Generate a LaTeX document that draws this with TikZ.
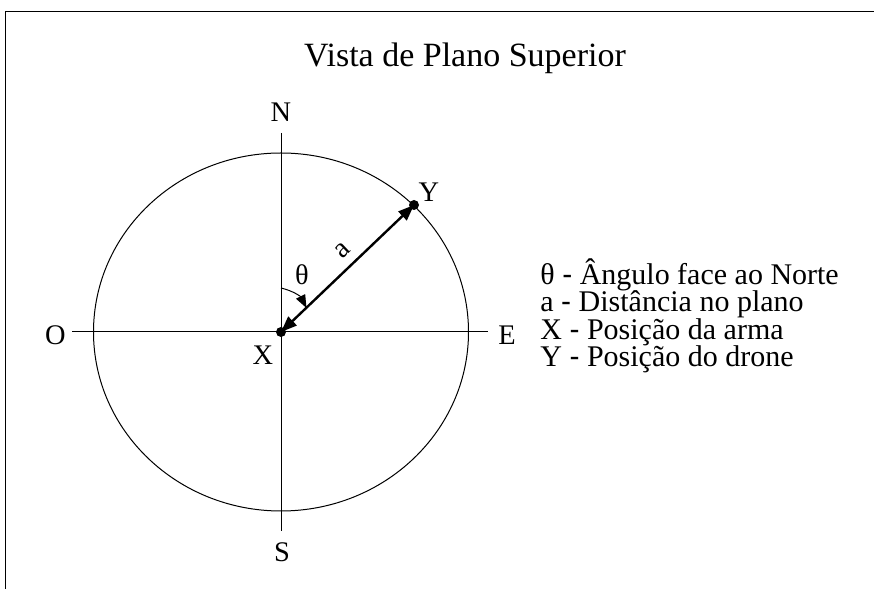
\documentclass[tikz,border=0pt]{standalone}
\usepackage{fontspec}
\setmainfont{Liberation Serif}
\setsansfont{Liberation Sans}
\usepackage{tikz}
\usetikzlibrary{arrows.meta, positioning, calc}
\newcommand{\legdash}{{\sffamily -}}
\tikzset{
  x=0.5pt, y=0.5pt,
  font=\fontsize{14.2}{17}\selectfont,
  thinline/.style={draw=black, line width=0.5pt},
  dotnode/.style={circle, fill=black, inner sep=0pt, minimum size=5pt},
  distline/.style={
    draw=black, line width=1.2pt,
    {Triangle[length=8pt, width=6pt]}-{Triangle[length=8pt, width=6pt]}
  },
  anglearrow/.style={
    draw=black, line width=0.5pt, -{Triangle[length=6.5pt, width=5pt]}
  },
  pointlabel/.style={inner sep=0pt, anchor=base},
  legendtext/.style={inner sep=0pt, anchor=base west, font=\fontsize{15}{18}\selectfont}
}

\begin{document}
\begin{tikzpicture}

  \useasboundingbox (0,0) rectangle (874,589);

  % frame (top and left edges only)
  \draw[thinline] (5,0) -- (5,577) -- (874,577);

  % title
  \node[pointlabel, font=\fontsize{17}{20}\selectfont] (title) at (465,522) {Vista de Plano Superior};

  % positions
  \node[dotnode] (X) at (281,257) {};
  \node[dotnode] (Y) at (414,384) {};

  % compass axes
  \coordinate (wend) at (72,257);
  \coordinate (eend) at (488,257);
  \coordinate (nend) at (281,456);
  \coordinate (send) at (281,58);
  \draw[thinline] (wend) -- (eend);
  \draw[thinline] (nend) -- (send);

  % plane circle
  \draw[thinline] (X.center) ellipse [x radius=187.5, y radius=179];

  % cardinal points
  \node[pointlabel] (north) at (281,467) {N};
  \node[pointlabel] (south) at (282,27) {S};
  \node[pointlabel] (west) at (55.5,244) {O};
  \node[pointlabel] (east) at (507,244) {E};

  % distance and angle
  \draw[distline] (Y.center) -- (X.center);
  \draw[anglearrow] ($(X.center)+(90:44)$) to[bend left=25] ($(X.center)+(43.3:35)$);

  \node[pointlabel] (xlabel) at (263,224) {X};
  \node[pointlabel] (ylabel) at (429,387) {Y};
  \node[pointlabel] (theta) at (302,304) {θ};
  \node[inner sep=0pt, rotate=43.3] (dist) at (343,339) {a};

  % legend
  \node[legendtext] (leg1) at (540,304.5) {θ \legdash{} Ângulo face ao Norte};
  \node[legendtext, below=13.7pt of leg1.base west, anchor=base west] (leg2) {a \legdash{} Distância no plano};
  \node[legendtext, below=13.7pt of leg2.base west, anchor=base west] (leg3) {X \legdash{} Posição da arma};
  \node[legendtext, below=13.7pt of leg3.base west, anchor=base west] (leg4) {Y \legdash{} Posição do drone};

\end{tikzpicture}
\end{document}
